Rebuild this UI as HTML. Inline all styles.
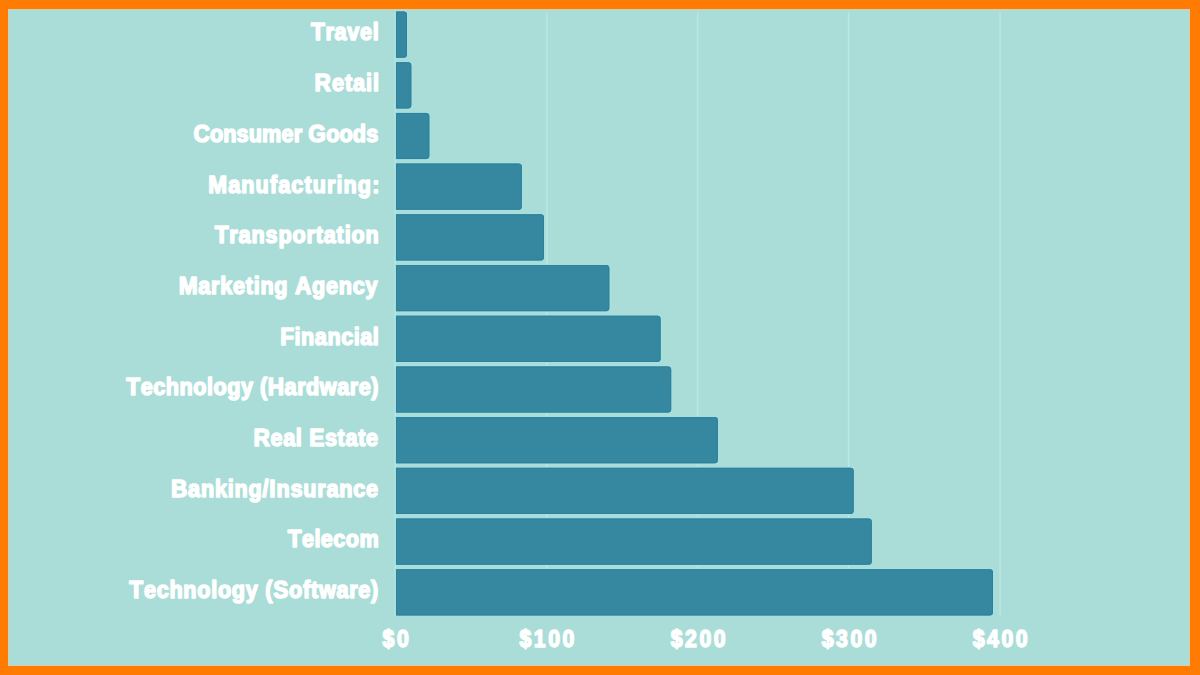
<!DOCTYPE html>
<html><head><meta charset="utf-8"><title>Chart</title><style>
html,body{margin:0;padding:0;width:1200px;height:675px;overflow:hidden;background:#FF7B02}
svg{display:block}
text{font-family:"Liberation Sans",Arial,sans-serif;font-weight:bold;fill:#FFFFFF;stroke:#FFFFFF;stroke-width:1.5px;stroke-linejoin:round}
</style></head><body>
<svg width="1200" height="675" viewBox="0 0 1200 675">
<rect x="0" y="0" width="1200" height="675" fill="#FF7B02"/>
<rect x="8" y="9" width="1182" height="657" fill="#AADDD8"/>
<rect x="8.5" y="9.5" width="1181" height="656" fill="none" stroke="#CFD3B3" stroke-width="1"/>
<rect x="394.55" y="12.5" width="1.5" height="602.9" fill="#BAE7E4"/>
<rect x="546.25" y="12.5" width="1.5" height="602.9" fill="#BAE7E4"/>
<rect x="696.95" y="12.5" width="1.5" height="602.9" fill="#BAE7E4"/>
<rect x="847.85" y="12.5" width="1.5" height="602.9" fill="#BAE7E4"/>
<rect x="999.35" y="12.5" width="1.5" height="602.9" fill="#BAE7E4"/>
<path d="M395.00 10.50H404.00A4.00 4.00 0 0 1 408.00 14.50V54.70A4.00 4.00 0 0 1 404.00 58.70H395.00Z" fill="#A3E0E6"/>
<path d="M396.00 11.50H404.00A3.00 3.00 0 0 1 407.00 14.50V54.70A3.00 3.00 0 0 1 404.00 57.70H396.00Z" fill="#35889F"/>
<path d="M396.50 12.00H404.00A2.50 2.50 0 0 1 406.50 14.50V54.70A2.50 2.50 0 0 1 404.00 57.20H396.50Z" fill="none" stroke="#30809A" stroke-width="1"/>
<path d="M395.00 61.20H408.30A4.00 4.00 0 0 1 412.30 65.20V105.40A4.00 4.00 0 0 1 408.30 109.40H395.00Z" fill="#A3E0E6"/>
<path d="M396.00 62.20H408.30A3.00 3.00 0 0 1 411.30 65.20V105.40A3.00 3.00 0 0 1 408.30 108.40H396.00Z" fill="#35889F"/>
<path d="M396.50 62.70H408.30A2.50 2.50 0 0 1 410.80 65.20V105.40A2.50 2.50 0 0 1 408.30 107.90H396.50Z" fill="none" stroke="#30809A" stroke-width="1"/>
<path d="M395.00 111.90H426.30A4.00 4.00 0 0 1 430.30 115.90V156.10A4.00 4.00 0 0 1 426.30 160.10H395.00Z" fill="#A3E0E6"/>
<path d="M396.00 112.90H426.30A3.00 3.00 0 0 1 429.30 115.90V156.10A3.00 3.00 0 0 1 426.30 159.10H396.00Z" fill="#35889F"/>
<path d="M396.50 113.40H426.30A2.50 2.50 0 0 1 428.80 115.90V156.10A2.50 2.50 0 0 1 426.30 158.60H396.50Z" fill="none" stroke="#30809A" stroke-width="1"/>
<path d="M395.00 162.60H518.80A4.00 4.00 0 0 1 522.80 166.60V206.80A4.00 4.00 0 0 1 518.80 210.80H395.00Z" fill="#A3E0E6"/>
<path d="M396.00 163.60H518.80A3.00 3.00 0 0 1 521.80 166.60V206.80A3.00 3.00 0 0 1 518.80 209.80H396.00Z" fill="#35889F"/>
<path d="M396.50 164.10H518.80A2.50 2.50 0 0 1 521.30 166.60V206.80A2.50 2.50 0 0 1 518.80 209.30H396.50Z" fill="none" stroke="#30809A" stroke-width="1"/>
<path d="M395.00 213.30H541.00A4.00 4.00 0 0 1 545.00 217.30V257.50A4.00 4.00 0 0 1 541.00 261.50H395.00Z" fill="#A3E0E6"/>
<path d="M396.00 214.30H541.00A3.00 3.00 0 0 1 544.00 217.30V257.50A3.00 3.00 0 0 1 541.00 260.50H396.00Z" fill="#35889F"/>
<path d="M396.50 214.80H541.00A2.50 2.50 0 0 1 543.50 217.30V257.50A2.50 2.50 0 0 1 541.00 260.00H396.50Z" fill="none" stroke="#30809A" stroke-width="1"/>
<path d="M395.00 264.00H606.30A4.00 4.00 0 0 1 610.30 268.00V308.20A4.00 4.00 0 0 1 606.30 312.20H395.00Z" fill="#A3E0E6"/>
<path d="M396.00 265.00H606.30A3.00 3.00 0 0 1 609.30 268.00V308.20A3.00 3.00 0 0 1 606.30 311.20H396.00Z" fill="#35889F"/>
<path d="M396.50 265.50H606.30A2.50 2.50 0 0 1 608.80 268.00V308.20A2.50 2.50 0 0 1 606.30 310.70H396.50Z" fill="none" stroke="#30809A" stroke-width="1"/>
<path d="M395.00 314.70H657.60A4.00 4.00 0 0 1 661.60 318.70V358.90A4.00 4.00 0 0 1 657.60 362.90H395.00Z" fill="#A3E0E6"/>
<path d="M396.00 315.70H657.60A3.00 3.00 0 0 1 660.60 318.70V358.90A3.00 3.00 0 0 1 657.60 361.90H396.00Z" fill="#35889F"/>
<path d="M396.50 316.20H657.60A2.50 2.50 0 0 1 660.10 318.70V358.90A2.50 2.50 0 0 1 657.60 361.40H396.50Z" fill="none" stroke="#30809A" stroke-width="1"/>
<path d="M395.00 365.40H668.20A4.00 4.00 0 0 1 672.20 369.40V409.60A4.00 4.00 0 0 1 668.20 413.60H395.00Z" fill="#A3E0E6"/>
<path d="M396.00 366.40H668.20A3.00 3.00 0 0 1 671.20 369.40V409.60A3.00 3.00 0 0 1 668.20 412.60H396.00Z" fill="#35889F"/>
<path d="M396.50 366.90H668.20A2.50 2.50 0 0 1 670.70 369.40V409.60A2.50 2.50 0 0 1 668.20 412.10H396.50Z" fill="none" stroke="#30809A" stroke-width="1"/>
<path d="M395.00 416.10H714.90A4.00 4.00 0 0 1 718.90 420.10V460.30A4.00 4.00 0 0 1 714.90 464.30H395.00Z" fill="#A3E0E6"/>
<path d="M396.00 417.10H714.90A3.00 3.00 0 0 1 717.90 420.10V460.30A3.00 3.00 0 0 1 714.90 463.30H396.00Z" fill="#35889F"/>
<path d="M396.50 417.60H714.90A2.50 2.50 0 0 1 717.40 420.10V460.30A2.50 2.50 0 0 1 714.90 462.80H396.50Z" fill="none" stroke="#30809A" stroke-width="1"/>
<path d="M395.00 466.80H850.70A4.00 4.00 0 0 1 854.70 470.80V511.00A4.00 4.00 0 0 1 850.70 515.00H395.00Z" fill="#A3E0E6"/>
<path d="M396.00 467.80H850.70A3.00 3.00 0 0 1 853.70 470.80V511.00A3.00 3.00 0 0 1 850.70 514.00H396.00Z" fill="#35889F"/>
<path d="M396.50 468.30H850.70A2.50 2.50 0 0 1 853.20 470.80V511.00A2.50 2.50 0 0 1 850.70 513.50H396.50Z" fill="none" stroke="#30809A" stroke-width="1"/>
<path d="M395.00 517.50H868.80A4.00 4.00 0 0 1 872.80 521.50V561.70A4.00 4.00 0 0 1 868.80 565.70H395.00Z" fill="#A3E0E6"/>
<path d="M396.00 518.50H868.80A3.00 3.00 0 0 1 871.80 521.50V561.70A3.00 3.00 0 0 1 868.80 564.70H396.00Z" fill="#35889F"/>
<path d="M396.50 519.00H868.80A2.50 2.50 0 0 1 871.30 521.50V561.70A2.50 2.50 0 0 1 868.80 564.20H396.50Z" fill="none" stroke="#30809A" stroke-width="1"/>
<path d="M395.00 568.20H990.00A4.00 4.00 0 0 1 994.00 572.20V612.40A4.00 4.00 0 0 1 990.00 616.40H395.00Z" fill="#A3E0E6"/>
<path d="M396.00 569.20H990.00A3.00 3.00 0 0 1 993.00 572.20V612.40A3.00 3.00 0 0 1 990.00 615.40H396.00Z" fill="#35889F"/>
<path d="M396.50 569.70H990.00A2.50 2.50 0 0 1 992.50 572.20V612.40A2.50 2.50 0 0 1 990.00 614.90H396.50Z" fill="none" stroke="#30809A" stroke-width="1"/>
<text transform="translate(310.99 40.40) scale(0.93 1)" font-size="23.3" textLength="72.85" lengthAdjust="spacing"><tspan font-size="24.4">T</tspan>ravel</text>
<text transform="translate(314.57 91.10) scale(0.93 1)" font-size="23.3" textLength="69.40" lengthAdjust="spacing"><tspan font-size="24.4">R</tspan>etail</text>
<text transform="translate(193.38 141.80) scale(0.93 1)" font-size="23.3" textLength="198.78" lengthAdjust="spacing"><tspan font-size="24.4">C</tspan>onsumer <tspan font-size="24.4">G</tspan>oods</text>
<text transform="translate(208.24 192.50) scale(0.93 1)" font-size="23.3" textLength="184.02" lengthAdjust="spacing"><tspan font-size="24.4">M</tspan>anufacturing:</text>
<text transform="translate(214.71 243.20) scale(0.93 1)" font-size="23.3" textLength="176.39" lengthAdjust="spacing"><tspan font-size="24.4">T</tspan>ransportation</text>
<text transform="translate(178.75 293.90) scale(0.93 1)" font-size="23.3" textLength="213.79" lengthAdjust="spacing"><tspan font-size="24.4">M</tspan>arketing <tspan font-size="24.4">A</tspan>gency</text>
<text transform="translate(280.21 344.60) scale(0.93 1)" font-size="23.3" textLength="106.01" lengthAdjust="spacing"><tspan font-size="24.4">F</tspan>inancial</text>
<text transform="translate(126.32 395.30) scale(0.93 1)" font-size="23.3" textLength="271.11" lengthAdjust="spacing"><tspan font-size="24.4">T</tspan>echnology (<tspan font-size="24.4">H</tspan>ardware)</text>
<text transform="translate(253.43 446.00) scale(0.93 1)" font-size="23.3" textLength="134.02" lengthAdjust="spacing"><tspan font-size="24.4">R</tspan>eal <tspan font-size="24.4">E</tspan>state</text>
<text transform="translate(170.91 496.70) scale(0.93 1)" font-size="23.3" textLength="222.84" lengthAdjust="spacing"><tspan font-size="24.4">B</tspan>anking/<tspan font-size="24.4">I</tspan>nsurance</text>
<text transform="translate(287.67 547.40) scale(0.93 1)" font-size="23.3" textLength="97.93" lengthAdjust="spacing"><tspan font-size="24.4">T</tspan>elecom</text>
<text transform="translate(129.32 598.10) scale(0.93 1)" font-size="23.3" textLength="267.78" lengthAdjust="spacing"><tspan font-size="24.4">T</tspan>echnology (<tspan font-size="24.4">S</tspan>oftware)</text>
<text transform="translate(382.61 647.3) scale(0.9 1)" font-size="23.6" textLength="29.13" lengthAdjust="spacing">$0</text>
<text transform="translate(519.61 647.3) scale(0.9 1)" font-size="23.6" textLength="60.68" lengthAdjust="spacing">$100</text>
<text transform="translate(670.68 647.3) scale(0.9 1)" font-size="23.6" textLength="61.06" lengthAdjust="spacing">$200</text>
<text transform="translate(821.68 647.3) scale(0.9 1)" font-size="23.6" textLength="61.06" lengthAdjust="spacing">$300</text>
<text transform="translate(972.75 647.3) scale(0.9 1)" font-size="23.6" textLength="61.02" lengthAdjust="spacing">$400</text>
</svg>
</body></html>
